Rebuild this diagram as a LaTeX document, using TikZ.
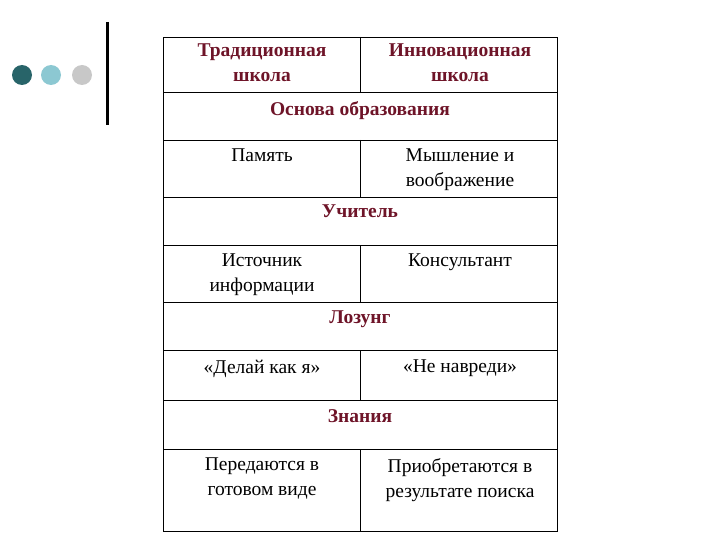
\documentclass[tikz,border=0pt]{standalone}
\usepackage{fontspec}
\setmainfont{Liberation Serif}
\definecolor{hdr}{RGB}{110,20,40}
\definecolor{dteal}{RGB}{40,100,105}
\definecolor{lblue}{RGB}{140,200,210}
\definecolor{lgray}{RGB}{200,200,200}
\tikzset{
 txt/.style={anchor=north,inner sep=0pt,align=center,font=\fontsize{19.5}{25}\selectfont},
 hd/.style={txt,text=hdr,font=\fontsize{19.5}{25}\selectfont\bfseries},
 grid/.style={draw=black,line width=0.8pt}
}
\begin{document}
\begin{tikzpicture}[x=1pt,y=-1pt]
\useasboundingbox (0,0) rectangle (720,540);
\fill[dteal] (22,75) circle (10);
\fill[lblue] (51,75) circle (10);
\fill[lgray] (82,75) circle (10);
\draw[line width=3pt] (107,22) -- (107,125);
\draw[grid] (163,37) rectangle (557,531);
\foreach \y in {92,140,197,245,302,350,400,449} \draw[grid] (163,\y) -- (557,\y);
\foreach \a/\b in {37/92,140/197,245/302,350/400,449/531} \draw[grid] (360,\a) -- (360,\b);
\node[hd] (h1) at (262,44) {Традиционная\\школа};
\node[hd] (h2) at (460,44) {Инновационная\\школа};
\node[hd] (r1) at (360,101) {Основа образования};
\node[txt] (a1) at (262,149) {Память};
\node[txt] (b1) at (460,149) {Мышление и\\воображение};
\node[hd] (r2) at (360,205) {Учитель};
\node[txt] (a2) at (262,254) {Источник\\информации};
\node[txt] (b2) at (460,254) {Консультант};
\node[hd] (r3) at (360,311) {Лозунг};
\node[txt] (a3) at (262,360) {«Делай как я»};
\node[txt] (b3) at (460,360) {«Не навреди»};
\node[hd] (r4) at (360,409) {Знания};
\node[txt] (a4) at (262,458) {Передаются в\\готовом виде};
\node[txt] (b4) at (460,458) {Приобретаются в\\результате поиска};
\end{tikzpicture}
\end{document}
